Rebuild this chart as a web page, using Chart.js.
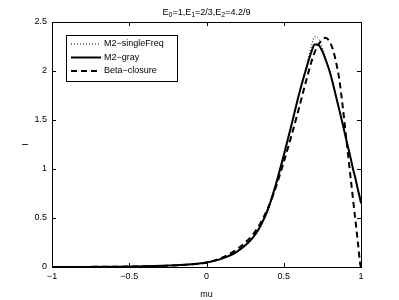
<!DOCTYPE html>
<html>
<head>
<meta charset="utf-8">
<script src="https://cdn.jsdelivr.net/npm/chart.js@4"></script>
<style>
  html, body { margin: 0; padding: 0; background: #fff; }
  #wrap { width: 399px; height: 300px; }
</style>
</head>
<body>
<div id="wrap"><canvas id="myChart"></canvas></div>
<script>
const muGrid = [-1, -0.8, -0.6, -0.4, -0.2, -0.1, 0, 0.1, 0.2, 0.3, 0.35, 0.4, 0.45, 0.5, 0.55, 0.6, 0.65, 0.68, 0.7, 0.72, 0.75, 0.77, 0.8, 0.82, 0.84, 0.86, 0.88, 0.9, 0.92, 0.94, 0.95, 0.96, 0.98, 0.995, 1];
const singleFreq = [0, 0.001, 0.003, 0.007, 0.016, 0.026, 0.043, 0.082, 0.155, 0.29, 0.41, 0.58, 0.82, 1.11, 1.43, 1.76, 2.07, 2.26, 2.35, 2.34, 2.24, 2.14, 1.99, 1.87, 1.74, 1.61, 1.47, 1.33, 1.20, 1.06, 0.99, 0.92, 0.78, 0.68, 0.64];
const gray = [0, 0.001, 0.003, 0.007, 0.017, 0.027, 0.045, 0.085, 0.16, 0.30, 0.42, 0.60, 0.85, 1.14, 1.45, 1.77, 2.05, 2.20, 2.27, 2.27, 2.20, 2.12, 1.98, 1.86, 1.73, 1.60, 1.47, 1.33, 1.20, 1.06, 0.99, 0.93, 0.79, 0.69, 0.65];
const beta = [0, 0.001, 0.003, 0.007, 0.016, 0.027, 0.045, 0.095, 0.185, 0.33, 0.45, 0.61, 0.82, 1.07, 1.34, 1.63, 1.93, 2.10, 2.19, 2.26, 2.32, 2.34, 2.29, 2.21, 2.08, 1.91, 1.66, 1.38, 1.09, 0.81, 0.67, 0.53, 0.25, 0.03, 0];

const seriesNames = ['M2\u2212singleFreq', 'M2\u2212gray', 'Beta\u2212closure'];
const xTicks = [-1, -0.5, 0, 0.5, 1];
const xTickLabels = ['\u22121', '\u22120.5', '0', '0.5', '1'];
const yTickLabels = ['0', '0.5', '1', '1.5', '2', '2.5'];
const titleParts = [['E', ''], ['0', 'sub'], ['=1,E', ''], ['1', 'sub'], ['=2/3,E', ''], ['2', 'sub'], ['=4.2/9', '']];

const font = 'Liberation Sans, Arial, sans-serif';
const toPoints = ys => muGrid.map((x, i) => ({ x: x, y: ys[i] }));

// box, inward ticks, title and legend, MATLAB style
const matlabFrame = {
    id: 'matlabFrame',
    afterDraw(chart) {
        const c = chart.ctx, a = chart.chartArea;
        const xs = chart.scales.x, ys = chart.scales.y;
        c.save();
        c.strokeStyle = '#000';
        c.lineWidth = 1;
        c.strokeRect(a.left + 0.5, a.top + 0.5, a.right - a.left, a.bottom - a.top);
        c.beginPath();
        xTicks.forEach(v => {
            const px = Math.round(xs.getPixelForValue(v)) + 0.5;
            c.moveTo(px, a.bottom); c.lineTo(px, a.bottom - 4);
            c.moveTo(px, a.top); c.lineTo(px, a.top + 4);
        });
        ys.ticks.forEach(t => {
            const py = Math.round(ys.getPixelForValue(t.value)) + 0.5;
            c.moveTo(a.left, py); c.lineTo(a.left + 4, py);
            c.moveTo(a.right, py); c.lineTo(a.right - 4, py);
        });
        c.stroke();

        // title with subscripts
        c.fillStyle = '#000';
        c.textBaseline = 'alphabetic';
        let w = 0;
        titleParts.forEach(p => {
            c.font = (p[1] ? 7 : 9) + 'px ' + font;
            w += c.measureText(p[0]).width;
        });
        let tx = (a.left + a.right) / 2 - w / 2;
        titleParts.forEach(p => {
            c.font = (p[1] ? 7 : 9) + 'px ' + font;
            c.fillText(p[0], tx, p[1] ? 17 : 15);
            tx += c.measureText(p[0]).width;
        });

        // legend
        const lx = 66, ly = 35, lw = 111, lh = 46;
        c.fillStyle = '#fff';
        c.fillRect(lx, ly, lw, lh);
        c.strokeRect(lx + 0.5, ly + 0.5, lw, lh);
        c.font = '9px ' + font;
        c.textBaseline = 'middle';
        chart.data.datasets.forEach((ds, i) => {
            const yy = ly + 9 + i * 13.5;
            c.beginPath();
            c.setLineDash(ds.borderDash || []);
            c.lineWidth = ds.borderWidth;
            c.moveTo(lx + 5, yy); c.lineTo(lx + 35, yy);
            c.stroke();
            c.setLineDash([]);
            c.fillStyle = '#000';
            c.fillText(ds.label, lx + 38, yy);
        });
        c.restore();
    }
};

new Chart(document.getElementById('myChart'), {
    type: 'line',
    data: {
        datasets: [
            { label: seriesNames[0], data: toPoints(singleFreq), borderColor: '#000', borderWidth: 1, borderDash: [1, 2] },
            { label: seriesNames[1], data: toPoints(gray), borderColor: '#000', borderWidth: 2 },
            { label: seriesNames[2], data: toPoints(beta), borderColor: '#000', borderWidth: 2, borderDash: [6, 4] }
        ]
    },
    options: {
        responsive: true,
        maintainAspectRatio: false,
        animation: false,
        layout: { padding: { left: 0, right: 38, top: 22, bottom: 0 } },
        elements: {
            point: { radius: 0 },
            line: { cubicInterpolationMode: 'monotone', fill: false }
        },
        scales: {
            x: {
                type: 'linear',
                min: -1, max: 1,
                afterFit: s => { s.height = 33; },
                afterBuildTicks: s => { s.ticks = xTicks.map(v => ({ value: v })); },
                grid: { display: false, drawTicks: false },
                border: { display: false },
                ticks: {
                    color: '#000', padding: 4,
                    font: { family: font, size: 9 },
                    callback: v => xTickLabels[xTicks.indexOf(v)]
                },
                title: { display: true, text: 'mu', color: '#000', font: { family: font, size: 9 }, padding: { top: 0, bottom: 0 } }
            },
            y: {
                min: 0, max: 2.5,
                afterFit: s => { s.width = 52; },
                grid: { display: false, drawTicks: false },
                border: { display: false },
                ticks: {
                    stepSize: 0.5, color: '#000', padding: 5,
                    font: { family: font, size: 9 },
                    callback: (v, i) => yTickLabels[i]
                },
                title: { display: true, text: 'I', color: '#000', font: { family: font, size: 9 }, padding: { top: 20, bottom: 0 } }
            }
        },
        plugins: {
            legend: { display: false },
            tooltip: { enabled: false }
        }
    },
    plugins: [matlabFrame]
});
</script>
</body>
</html>
